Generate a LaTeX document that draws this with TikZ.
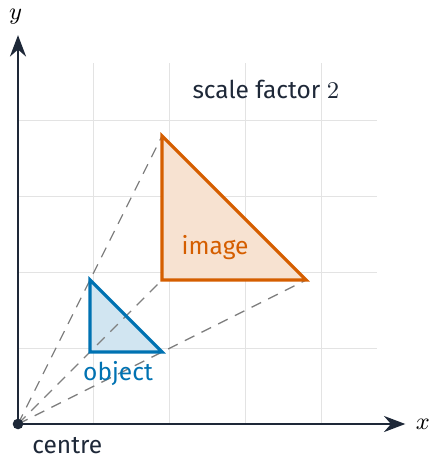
\documentclass[tikz,border=0pt]{standalone}
\usepackage{fontspec}
\setmainfont{Fira Sans}
\usepackage{xcolor}
\usepackage{tikz}
\usetikzlibrary{arrows.meta}

\definecolor{axiscol}{HTML}{1E2838}
\definecolor{objblue}{HTML}{0072B2}
\definecolor{imgorange}{HTML}{D55E00}

\tikzset{
  axisline/.style={line width=1.1pt, axiscol, -{Stealth[length=8pt,width=6pt]}},
  rayline/.style={gray, line width=0.5pt, dash pattern=on 4pt off 3pt},
  shapeline/.style={line width=1.2pt, line join=miter}
}

\begin{document}
\begin{tikzpicture}[font=\fontsize{9.2}{11}\selectfont]
\useasboundingbox (-0.2375,-0.4617) rectangle (5.4617,5.5937);
\draw[gray!22, line width=0.5pt] (0,0) grid (4.74,4.76);

\coordinate (O) at (0,0);
\coordinate (A) at (0.95,0.95);
\coordinate (B) at (1.9,0.95);
\coordinate (C) at (0.95,1.9);
\coordinate (A2) at (1.9,1.9);
\coordinate (B2) at (3.8,1.9);
\coordinate (C2) at (1.9,3.8);

\fill[imgorange!18] (A2) -- (B2) -- (C2) -- cycle;
\fill[objblue!18] (A) -- (B) -- (C) -- cycle;

\draw[rayline] (O) -- (A2);
\draw[rayline] (O) -- (B2);
\draw[rayline] (O) -- (C2);

\draw[shapeline, imgorange] (A2) -- (B2) -- (C2) -- cycle;
\draw[shapeline, objblue] (A) -- (B) -- (C) -- cycle;

\draw[axisline] (O) -- (5.11,0) coordinate (xend);
\draw[axisline] (O) -- (0,5.13) coordinate (yend);
\fill[axiscol] (O) circle (0.07);

\node (xlab) at (5.34,0) {$x$};
\node (ylab) at (-0.03,5.37) {$y$};
\node[axiscol] (centre) at (0.65,-0.28) {centre};
\node[objblue] (objlab) at (1.32,0.67) {object};
\node[imgorange] (imglab) at (2.6,2.33) {image};
\node[axiscol] (scale) at (3.27,4.42) {scale factor $2$};
\end{tikzpicture}
\end{document}
